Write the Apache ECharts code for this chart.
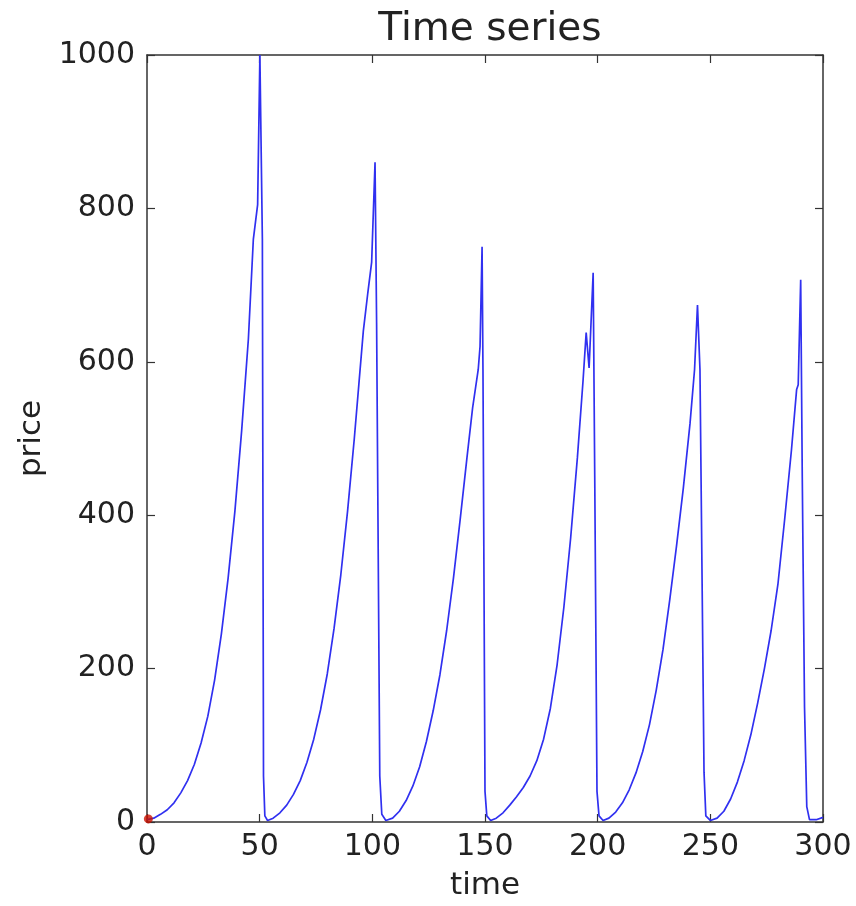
<!DOCTYPE html>
<html lang="en">

<head>
    <meta charset="UTF-8">
    <title>Time series</title>
    <style>
        html, body { margin: 0; padding: 0; background: #fff; }
    </style>
</head>

<body>
    <div id="main" style="width: 856px;height: 906px;"></div>
    <script src="https://cdn.jsdelivr.net/npm/echarts@6/dist/echarts.min.js"></script>
    <script>
        // [time, price], one array per boom/crash cycle
        var cycle1 = [[0, 3], [3, 5], [6, 10], [9, 16], [12, 25], [15, 38], [18, 54], [21, 75], [24, 103], [27, 138],
            [30, 185], [33, 245], [36, 318], [39, 405], [42, 510], [45, 630], [47.2, 760], [49.1, 805], [50.1, 1000],
            [50.7, 1000], [51.2, 760], [51.7, 60], [52.3, 8], [53.5, 2]];
        var cycle2 = [[56, 5], [59, 12], [62, 22], [65, 36], [68, 54], [71, 78], [74, 108], [77, 146], [80, 193],
            [83, 252], [86, 322], [89, 405], [92, 500], [94, 570], [96, 640], [98, 690], [99.7, 730], [101.2, 860],
            [101.9, 650], [103.3, 60], [104.2, 10], [106, 2]];
        var cycle3 = [[109, 5], [112, 14], [115, 28], [118, 47], [121, 72], [124, 105], [127, 145], [130, 192],
            [133, 250], [136, 318], [139, 395], [142, 475], [144.5, 540], [147, 590], [147.8, 620], [148.7, 750],
            [149.1, 590], [150, 40], [150.8, 8], [152.5, 2]];
        var cycle4 = [[155, 5], [158, 12], [161, 22], [164, 33], [167, 45], [170, 60], [173, 80], [176, 108],
            [179, 148], [182, 205], [185, 280], [188, 370], [191, 475], [193.5, 575], [194.9, 638], [196.2, 592],
            [198, 716], [198.7, 450], [199.7, 40], [200.6, 8], [202.4, 2]];
        var cycle5 = [[205, 5], [208, 13], [211, 25], [214, 42], [217, 64], [220, 92], [223, 127], [226, 172],
            [229, 225], [232, 290], [235, 360], [238, 435], [241, 520], [243, 590], [244.3, 674], [245.4, 590],
            [247.2, 65], [248, 8], [250, 2]];
        var cycle6 = [[253, 5], [256, 14], [259, 30], [262, 52], [265, 80], [268, 114], [271, 155], [274, 200],
            [277, 250], [280, 310], [283, 395], [286, 485], [288.3, 564], [289, 570], [290.1, 707], [290.8, 450],
            [291.8, 150], [292.8, 20], [294, 3], [297, 3], [300, 6]];
        var startPoint = [[0.6, 4]];

        var xTicks = { min: 0, max: 300, interval: 50 };
        var yTicks = { min: 0, max: 1000, interval: 200 };

        var priceData = [].concat(cycle1, cycle2, cycle3, cycle4, cycle5, cycle6);

        var font = 'DejaVu Sans';
        var frame = { show: true, onZero: false, lineStyle: { color: '#333', width: 1.5 } };
        var tick = { show: true, inside: true, length: 8, lineStyle: { color: '#333', width: 1.2 } };

        var chart = echarts.init(document.getElementById('main'));
        chart.setOption({
            animation: false,
            backgroundColor: '#fff',
            title: {
                text: 'Time series',
                left: 485,
                textAlign: 'center',
                top: 5,
                textStyle: { fontFamily: font, fontSize: 39, fontWeight: 'normal', color: '#222' }
            },
            grid: { left: 147, top: 55, width: 676, height: 768 },
            xAxis: [
                {
                    type: 'value', position: 'bottom',
                    min: xTicks.min, max: xTicks.max, interval: xTicks.interval,
                    name: 'time', nameLocation: 'middle', nameGap: 48,
                    nameTextStyle: { fontFamily: font, fontSize: 31, color: '#222' },
                    axisLine: frame, axisTick: tick, splitLine: { show: false },
                    axisLabel: { fontFamily: font, fontSize: 30, color: '#222', margin: 10 }
                },
                {
                    type: 'value', position: 'top',
                    min: xTicks.min, max: xTicks.max, interval: xTicks.interval,
                    axisLine: frame, axisTick: tick, splitLine: { show: false },
                    axisLabel: { show: false }
                }
            ],
            yAxis: [
                {
                    type: 'value', position: 'left',
                    min: yTicks.min, max: yTicks.max, interval: yTicks.interval,
                    name: 'price', nameLocation: 'middle', nameGap: 94,
                    nameTextStyle: { fontFamily: font, fontSize: 31, color: '#222' },
                    axisLine: frame, axisTick: tick, splitLine: { show: false },
                    axisLabel: {
                        fontFamily: font, fontSize: 30, color: '#222', margin: 12,
                        formatter: function (v) { return String(v); }
                    }
                },
                {
                    type: 'value', position: 'right',
                    min: yTicks.min, max: yTicks.max, interval: yTicks.interval,
                    axisLine: frame, axisTick: tick, splitLine: { show: false },
                    axisLabel: { show: false }
                }
            ],
            series: [
                {
                    type: 'line',
                    xAxisIndex: 0, yAxisIndex: 0,
                    data: priceData,
                    showSymbol: false,
                    lineStyle: { color: '#3030f0', width: 1.7 },
                    z: 2
                },
                {
                    type: 'scatter',
                    xAxisIndex: 0, yAxisIndex: 0,
                    data: startPoint,
                    symbolSize: 9,
                    itemStyle: { color: '#cc1100' },
                    z: 3
                }
            ]
        });
    </script>
</body>

</html>
